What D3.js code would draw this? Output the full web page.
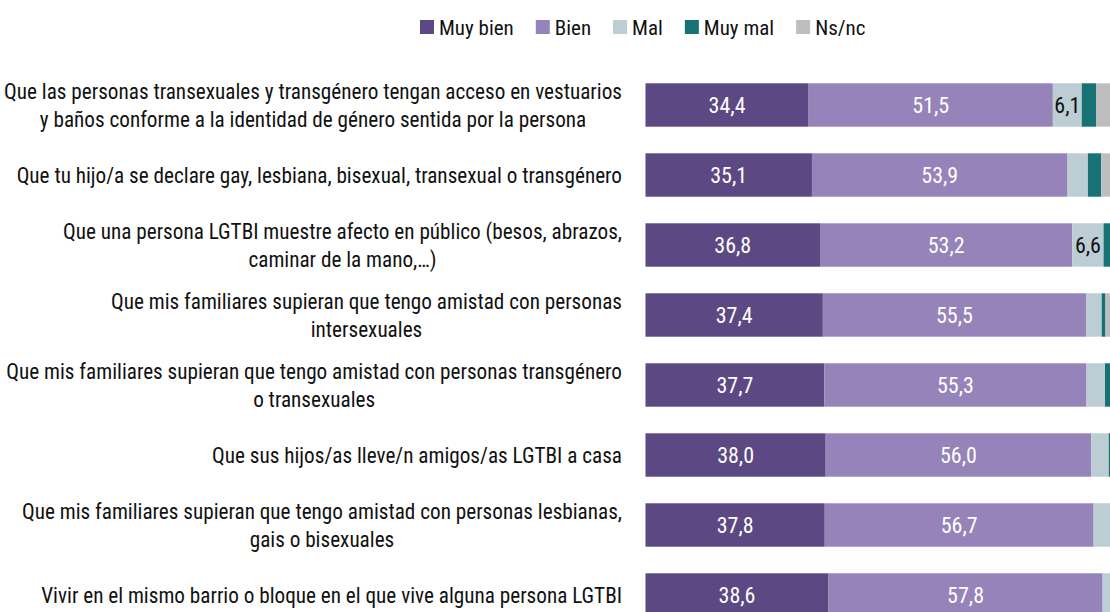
<!DOCTYPE html>
<html>
<head>
<meta charset="utf-8">
<script src="https://cdn.jsdelivr.net/npm/d3@7/dist/d3.min.js"></script>
<style>
  html, body { margin: 0; padding: 0; background: #fff; overflow: hidden; }
  svg { display: block; }
  text { font-family: "Roboto Condensed", "Liberation Sans Narrow", "Arial Narrow", "DejaVu Sans Condensed", "DejaVu Sans", sans-serif; font-stretch: condensed; }
</style>
</head>
<body>
<svg id="chart" width="1110" height="612"></svg>
<script>
// ---- data ----
const categories = [
  ["Que las personas transexuales y transgénero tengan acceso en vestuarios", "y baños conforme a la identidad de género sentida por la persona"],
  ["Que tu hijo/a se declare gay, lesbiana, bisexual, transexual o transgénero"],
  ["Que una persona LGTBI muestre afecto en público (besos, abrazos,", "caminar de la mano,…)"],
  ["Que mis familiares supieran que tengo amistad con personas", "intersexuales"],
  ["Que mis familiares supieran que tengo amistad con personas transgénero", "o transexuales"],
  ["Que sus hijos/as lleve/n amigos/as LGTBI a casa"],
  ["Que mis familiares supieran que tengo amistad con personas lesbianas,", "gais o bisexuales"],
  ["Vivir en el mismo barrio o bloque en el que vive alguna persona LGTBI"]
];
const seriesNames = ["Muy bien", "Bien", "Mal", "Muy mal", "Ns/nc"];
const muyBien = [34.4, 35.1, 36.8, 37.4, 37.7, 38.0, 37.8, 38.6];
const bien    = [51.5, 53.9, 53.2, 55.5, 55.3, 56.0, 56.7, 57.8];
const mal     = [6.1, 4.3, 6.6, 3.3, 3.9, 3.7, 3.8, 2.2];
const muyMal  = [3.0, 2.8, 2.0, 0.8, 1.5, 0.8, 0.5, 0.4];
const nsnc    = [5.0, 3.9, 1.4, 3.0, 1.6, 1.5, 1.2, 1.0];
const colors  = ["#5c4882", "#9683b9", "#bccdd4", "#167275", "#bebebe"];

// ---- build ----
const seriesValues = [muyBien, bien, mal, muyMal, nsnc];
const keys = categories.map((c, i) => "c" + i);
const table = keys.map((k, i) => {
  const row = { key: k };
  seriesNames.forEach((s, j) => row[s] = seriesValues[j][i]);
  return row;
});
const stacked = d3.stack().keys(seriesNames)(table);

const svg = d3.select("#chart");
const x = d3.scaleLinear().domain([0, 100]).range([645.5, 1119.7]);
const y = d3.scaleBand().domain(keys).range([70, 630]).paddingInner(0.38).paddingOuter(0.19);
const color = d3.scaleOrdinal().domain(seriesNames).range(colors);
const fmt = v => d3.format(".1f")(v).replace(".", ",");

const layers = svg.append("g").selectAll("g").data(stacked).join("g")
  .attr("fill", d => color(d.key));
layers.selectAll("rect").data(d => d).join("rect")
  .attr("x", d => x(d[0]))
  .attr("width", d => x(d[1]) - x(d[0]))
  .attr("y", d => y(d.data.key))
  .attr("height", y.bandwidth());

// value labels
const labelLayers = svg.append("g").selectAll("g").data(stacked.filter(s => s.key !== "Ns/nc")).join("g");
labelLayers.selectAll("text").data(d => d.map(v => ({ v, key: d.key }))).join("text")
  .filter(d => (d.v[1] - d.v[0]) >= 6)
  .attr("x", d => (x(d.v[0]) + x(d.v[1])) / 2)
  .attr("y", d => y(d.v.data.key) + y.bandwidth() / 2)
  .attr("dy", "0.36em")
  .attr("text-anchor", "middle")
  .attr("font-size", 22)
  .attr("fill", d => (d.key === "Mal" ? "#111" : "#fff"))
  .text(d => fmt(d.v[1] - d.v[0]));

// category labels: block right-aligned, lines centered
const labelRight = 622;
const lineH = 28;
const lg = svg.append("g");
categories.forEach((lines, i) => {
  const cy = y(keys[i]) + y.bandwidth() / 2;
  const g = lg.append("g");
  const texts = g.selectAll("text").data(lines).join("text")
    .attr("font-size", 21.2)
    .attr("fill", "#111")
    .attr("text-anchor", "middle")
    .attr("y", (d, j) => cy + (j - (lines.length - 1) / 2) * lineH)
    .attr("dy", "0.36em")
    .text(d => d);
  let maxW = 0;
  texts.each(function () { maxW = Math.max(maxW, this.getComputedTextLength()); });
  texts.attr("x", labelRight - maxW / 2);
});

// legend
const legend = svg.append("g");
let lx = 420;
seriesNames.forEach((s, i) => {
  legend.append("rect").attr("x", lx).attr("y", 20).attr("width", 14).attr("height", 14).attr("fill", colors[i]);
  const t = legend.append("text").attr("x", lx + 19).attr("y", 27).attr("dy", "0.36em")
    .attr("font-size", 21).attr("fill", "#111").text(s);
  lx += 19 + t.node().getComputedTextLength() + 22;
});
</script>
</body>
</html>
